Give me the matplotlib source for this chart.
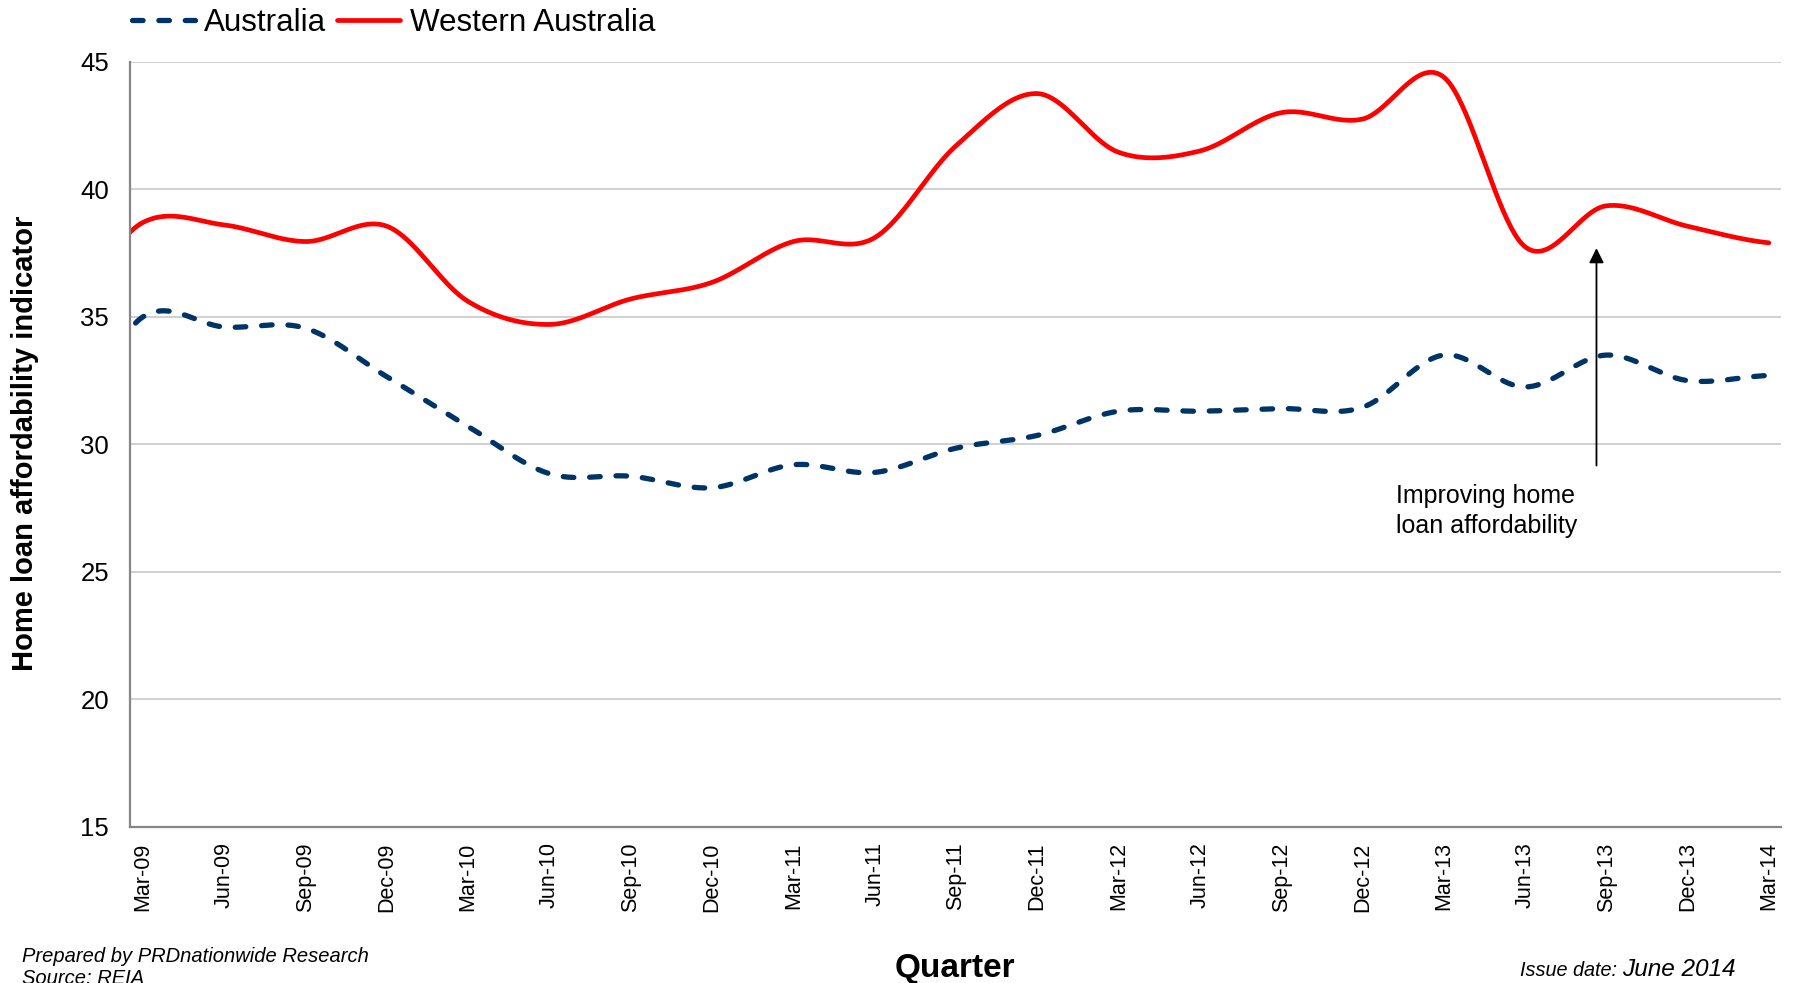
import numpy as np
import matplotlib
matplotlib.use('Agg')
import matplotlib.pyplot as plt

plt.rcParams['font.family'] = ['Liberation Sans', 'DejaVu Sans']

# quarterly data; Dec-08 sits just left of the axis and is clipped
quarters = ['Dec-08', 'Mar-09', 'Jun-09', 'Sep-09', 'Dec-09', 'Mar-10', 'Jun-10', 'Sep-10',
            'Dec-10', 'Mar-11', 'Jun-11', 'Sep-11', 'Dec-11', 'Mar-12', 'Jun-12', 'Sep-12',
            'Dec-12', 'Mar-13', 'Jun-13', 'Sep-13', 'Dec-13', 'Mar-14']
australia = [30.5, 35.0, 34.6, 34.55, 32.65, 30.7, 28.85, 28.75, 28.3, 29.2, 28.9, 29.85,
             30.35, 31.3, 31.3, 31.4, 31.45, 33.5, 32.25, 33.5, 32.5, 32.7]
western_australia = [35.3, 38.7, 38.6, 37.95, 38.55, 35.6, 34.7, 35.7, 36.35, 37.95, 38.1, 41.7,
                     43.75, 41.45, 41.5, 43.0, 42.75, 44.4, 37.75, 39.35, 38.55, 37.9]
y_ticks = [15, 20, 25, 30, 35, 40, 45]


def smooth(y, n=40):
    # catmull-rom style smoothing like excel's smoothed line
    y = np.asarray(y, dtype=float)
    p = np.concatenate([[y[0]], y, [y[-1]]])
    xs, ys = [], []
    for i in range(len(y) - 1):
        p0, p1, p2, p3 = p[i], p[i + 1], p[i + 2], p[i + 3]
        m1 = (p2 - p0) / 2
        m2 = (p3 - p1) / 2
        t = np.linspace(0, 1, n, endpoint=(i == len(y) - 2))
        h00 = 2 * t**3 - 3 * t**2 + 1
        h10 = t**3 - 2 * t**2 + t
        h01 = -2 * t**3 + 3 * t**2
        h11 = t**3 - t**2
        xs.append(i + t)
        ys.append(h00 * p1 + h10 * m1 + h01 * p2 + h11 * m2)
    return np.concatenate(xs), np.concatenate(ys)


x = np.arange(len(quarters)) - 1  # Mar-09 at 0

fig = plt.figure(figsize=(17.94, 9.83), dpi=100)
ax = fig.add_axes([130 / 1794, 1 - 827 / 983, (1781 - 130) / 1794, (827 - 61.7) / 983])

xa, ya = smooth(australia)
xw, yw = smooth(western_australia)
ax.plot(xa + x[0], ya, color='#003366', lw=3.8, dashes=(2, 3), dash_capstyle='round',
        label='Australia')
ax.plot(xw + x[0], yw, color='#FF0000', lw=3.4, solid_capstyle='round',
        label='Western Australia')

ax.set_xlim(-0.16, 20.15)
ax.set_ylim(15, 45)
ax.set_yticks(y_ticks)
ax.set_xticks(x[1:])
ax.set_xticklabels(quarters[1:], rotation=90, fontsize=15.5)
ax.tick_params(axis='y', length=0, pad=15, labelsize=18.5)
ax.tick_params(axis='x', length=0, pad=11)
ax.grid(axis='y', color='#C8C8C8', lw=1.2)
ax.set_axisbelow(True)
for s in ['top', 'right']:
    ax.spines[s].set_visible(False)
for s in ['left', 'bottom']:
    ax.spines[s].set_color('#868686')
    ax.spines[s].set_linewidth(1.6)

fig.text(25 / 1794, 1 - 443 / 983, 'Home loan affordability indicator', rotation=90,
         fontsize=21, fontweight='bold', ha='center', va='center')
fig.text(955 / 1794, 1 - 968 / 983, 'Quarter', fontsize=24, fontweight='bold',
         ha='center', va='center')

# annotation arrow
ax.annotate('', xy=(17.88, 37.8), xytext=(17.88, 29.06),
            arrowprops=dict(arrowstyle='-|>', color='black', lw=1.3, mutation_scale=22))
ax.text(15.42, 27.4, 'Improving home\nloan affordability', fontsize=18, ha='left',
        va='center', linespacing=1.3)

fig.text(22 / 1794, 1 - 957 / 983, 'Prepared by PRDnationwide Research', fontsize=14.5,
         style='italic', ha='left', va='center')
fig.text(22 / 1794, 1 - 979 / 983, 'Source: REIA', fontsize=14.5,
         style='italic', ha='left', va='center')
fig.text(1520 / 1794, 1 - 970 / 983, 'Issue date:', fontsize=14.3, style='italic',
         ha='left', va='center')
fig.text(1622 / 1794, 1 - 969 / 983, 'June 2014', fontsize=17.6, style='italic',
         ha='left', va='center')

fig.legend(loc='center left', bbox_to_anchor=(132 / 1794, 1 - 23 / 983), ncol=2,
           frameon=False, fontsize=22.6, handlelength=2.0, handletextpad=0.3,
           columnspacing=0.35, borderpad=0, borderaxespad=0)

fig.savefig('out.png', dpi=100)
